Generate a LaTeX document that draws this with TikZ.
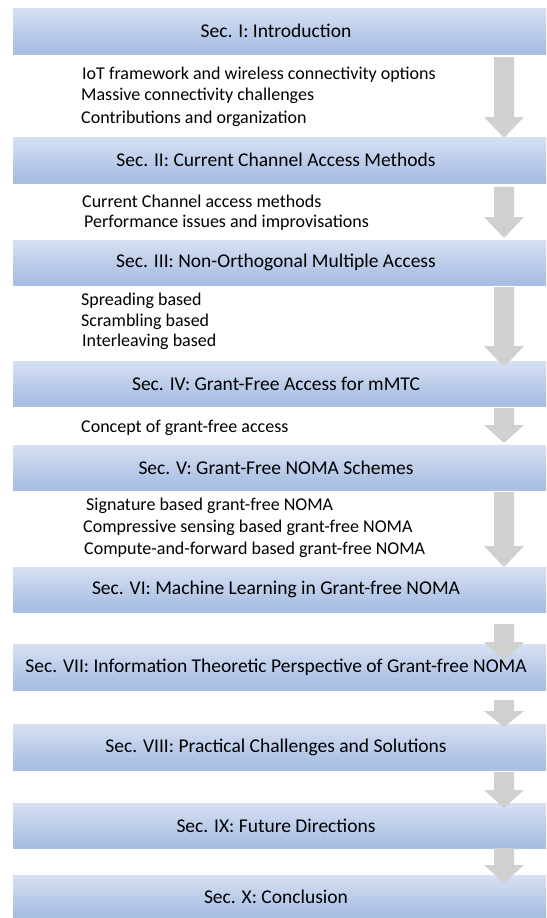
\documentclass[tikz,border=0pt]{standalone}
\usepackage{fontspec}
\setmainfont{Carlito}
\definecolor{btop}{HTML}{F1F4FB}
\definecolor{bmid}{HTML}{A8BEE3}
\definecolor{bbot}{HTML}{BFD0EC}
\definecolor{agray}{HTML}{D0D0D0}
\pgfdeclareverticalshading{barshade}{100bp}{color(0bp)=(bbot); color(14bp)=(bmid); color(30bp)=(bmid); color(100bp)=(btop)}
\tikzset{
  secbar/.style={shading=barshade, inner sep=0pt, outer sep=0pt},
  sectext/.style={inner sep=0pt, font=\fontsize{19.5}{22}\selectfont},
  item/.style={anchor=west, inner sep=0pt, font=\fontsize{18}{21}\selectfont},
  blockarrow/.style={fill=agray, draw=none}
}
\newcommand{\barsec}[4]{% name, top, bottom, text
  \path[secbar] (13,#2) rectangle (546,#3);
  \node[sectext] (#1) at (276,{(#2+#3)/2}) {#4};
}
\newcommand{\blockdown}[3]{% top, tip, head height
  \fill[blockarrow] (494,#1) -- (514,#1) -- (514,{#2-#3}) -- (524,{#2-#3}) -- (504,#2) -- (484,{#2-#3}) -- (494,{#2-#3}) -- cycle;
}
\begin{document}
\begin{tikzpicture}[x=1pt,y=-1pt]
\useasboundingbox (0,0) rectangle (546,918);
\fill[white] (0,0) rectangle (546,918);
\barsec{s1}{8}{54}{Sec. I: Introduction}
\barsec{s2}{137}{183}{Sec. II: Current Channel Access Methods}
\barsec{s3}{240}{285}{Sec. III: Non-Orthogonal Multiple Access}
\barsec{s4}{361}{406}{Sec. IV: Grant-Free Access for mMTC}
\barsec{s5}{445}{490}{Sec. V: Grant-Free NOMA Schemes}
\barsec{s6}{567}{612}{Sec. VI: Machine Learning in Grant-free NOMA}
\barsec{s7}{644}{690}{Sec. VII: Information Theoretic Perspective of Grant-free NOMA}
\barsec{s8}{724}{770}{Sec. VIII: Practical Challenges and Solutions}
\barsec{s9}{803}{848}{Sec. IX: Future Directions}
\barsec{s10}{875}{918}{Sec. X: Conclusion}

\node[item] (i11) at (82,75) {IoT framework and wireless connectivity options};
\node[item] (i12) at (81,96) {Massive connectivity challenges};
\node[item] (i13) at (81,119) {Contributions and organization};
\node[item] (i21) at (82,201) {Current Channel access methods};
\node[item] (i22) at (84,223) {Performance issues and improvisations};
\node[item] (i31) at (81,301) {Spreading based};
\node[item] (i32) at (81,322) {Scrambling based};
\node[item] (i33) at (82,342) {Interleaving based};
\node[item] (i41) at (81,428) {Concept of grant-free access};
\node[item] (i51) at (86,506) {Signature based grant-free NOMA};
\node[item] (i52) at (83,528) {Compressive sensing based grant-free NOMA};
\node[item] (i53) at (84,550) {Compute-and-forward based grant-free NOMA};

\blockdown{57}{138}{21}
\blockdown{187}{238}{21}
\blockdown{287}{367}{21}
\blockdown{408}{443}{18}
\blockdown{492}{567}{21}
\blockdown{624}{660}{18}
\blockdown{700}{727}{16}
\blockdown{772}{808}{18}
\blockdown{848}{883}{18}
\end{tikzpicture}
\end{document}
